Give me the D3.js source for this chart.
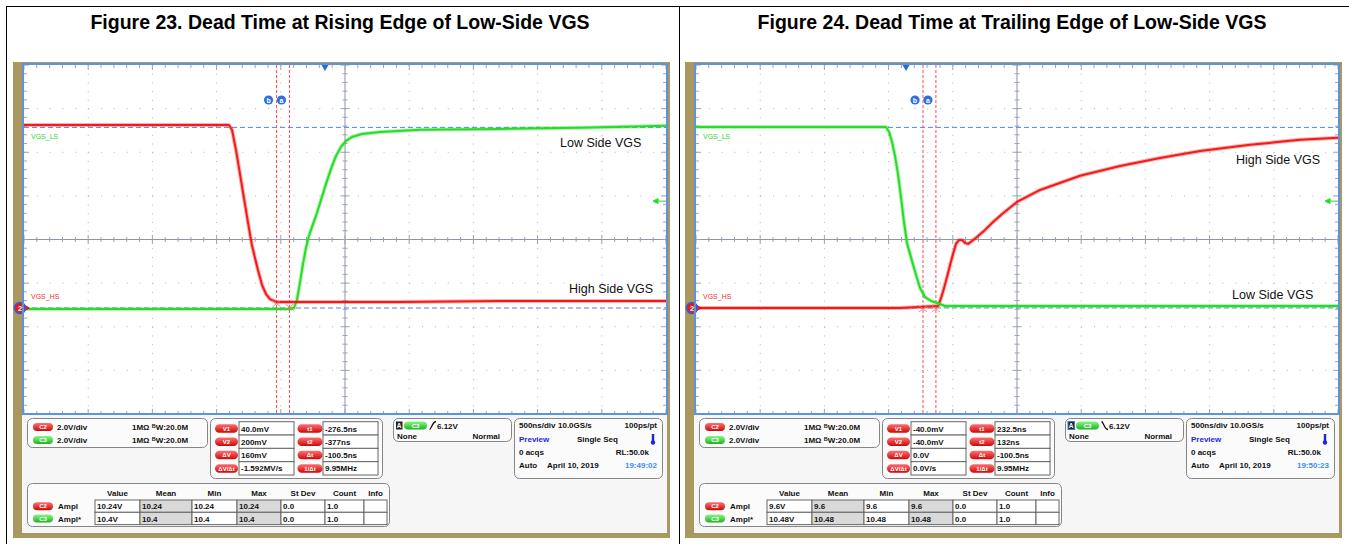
<!DOCTYPE html>
<html>
<head>
<meta charset="utf-8">
<script src="https://cdn.jsdelivr.net/npm/d3@7"></script>
<style>
  body { margin: 0; background: #fff; }
  svg { display: block; font-family: "Liberation Sans", Arial, sans-serif; }
</style>
</head>
<body>
<svg id="chart" width="1349" height="544"></svg>
<script>
// ---- data (time in ns from trigger, volts) ----
const TDIV = 500, VDIV = 2, V_BOTTOM = -4.86;

const fig23Title = "Figure 23. Dead Time at Rising Edge of Low-Side VGS";
const fig23HsT = [-2344, -1363, -748, -724, -693, -662, -631, -600, -584, -569, -545, -522, -490, -459, -428, -382, -320, -195, 584, 1363, 2656];
const fig23HsV = [8.39, 8.39, 8.39, 8.17, 7.25, 6.15, 5.05, 3.94, 3.39, 2.89, 2.29, 1.74, 1.05, 0.64, 0.41, 0.28, 0.28, 0.28, 0.28, 0.32, 0.32];
const fig23LsT = [-2344, -974, -273, -241, -218, -195, -171, -148, -125, -101, -70, -31, 8, 47, 86, 125, 164, 210, 288, 428, 740, 1363, 1986, 2656];
const fig23LsV = [-0.05, -0.05, -0.05, 0, 0.37, 1.15, 2.02, 2.75, 3.30, 3.72, 4.22, 4.95, 5.69, 6.38, 6.97, 7.39, 7.66, 7.84, 7.98, 8.07, 8.17, 8.21, 8.26, 8.35];
const fig23Cursors = [-377, -276.5];          // b, a
const fig23CursorV = [0.2, 0.04];
const fig23VText = ["40.0mV", "200mV", "160mV", "-1.592MV/s"];
const fig23TText = ["-276.5ns", "-377ns", "-100.5ns", "9.95MHz"];
const fig23Ampl = [["10.24V", "10.24", "10.24", "10.24", "0.0", "1.0", ""],
                   ["10.4V", "10.4", "10.4", "10.4", "0.0", "1.0", ""]];
const fig23Clock = "19:49:02";

const fig24Title = "Figure 24. Dead Time at Trailing Edge of Low-Side VGS";
const fig24LsT = [-1636, -826, -156, -132, -109, -86, -62, -39, -16, 8, 31, 55, 78, 109, 148, 195, 241, 304, 732, 1511, 3364];
const fig24LsV = [8.30, 8.30, 8.30, 8.07, 7.61, 6.97, 6.10, 5.05, 3.94, 2.95, 2.48, 1.97, 1.51, 0.92, 0.50, 0.32, 0.23, 0.09, 0.09, 0.09, 0.09];
const fig24HsT = [-1636, -47, 249, 273, 296, 319, 343, 366, 389, 413, 436, 460, 483, 514, 561, 615, 678, 748, 864, 1044, 1355, 1667, 1978, 2290, 2679, 3069, 3364];
const fig24HsV = [0, 0, 0.09, 0.46, 0.92, 1.42, 1.97, 2.48, 2.94, 3.12, 3.12, 2.98, 2.94, 3.07, 3.30, 3.58, 3.94, 4.31, 4.86, 5.41, 6.06, 6.51, 6.88, 7.20, 7.48, 7.71, 7.80];
const fig24Cursors = [132, 232.5];
const fig24CursorV = [-0.04, -0.04];
const fig24VText = ["-40.0mV", "-40.0mV", "0.0V", "0.0V/s"];
const fig24TText = ["232.5ns", "132ns", "-100.5ns", "9.95MHz"];
const fig24Ampl = [["9.6V", "9.6", "9.6", "9.6", "0.0", "1.0", ""],
                   ["10.48V", "10.48", "10.48", "10.48", "0.0", "1.0", ""]];
const fig24Clock = "19:50:23";

const cursorNames = ["V1", "V2", "ΔV", "ΔV/Δt"];
const timeNames = ["t1", "t2", "Δt", "1/Δt"];
const tableHead = ["Value", "Mean", "Min", "Max", "St Dev", "Count", "Info"];
const tableCols = [95, 140, 192, 237, 281, 325, 364, 387];

const TAN = "#aa9861", RED = "#f51a1a", GREEN = "#27dc27", BLUE = "#4a8be4";

const svg = d3.select("#chart");
const defs = svg.append("defs");
function grad(id, c1, c2) {
  const lg = defs.append("linearGradient").attr("id", id).attr("x1", 0).attr("y1", 0).attr("x2", 0).attr("y2", 1);
  lg.append("stop").attr("offset", "0%").attr("stop-color", c1);
  lg.append("stop").attr("offset", "100%").attr("stop-color", c2);
}
grad("gRed", "#ff7070", "#cc0808");
grad("gGreen", "#8af58a", "#1cb41c");

// page borders
svg.append("line").attr("x1", 6.5).attr("x2", 6.5).attr("y1", 6).attr("y2", 544).attr("stroke", "#000");
svg.append("line").attr("x1", 679.5).attr("x2", 679.5).attr("y1", 6).attr("y2", 544).attr("stroke", "#000");
svg.append("line").attr("x1", 6).attr("x2", 1349).attr("y1", 6.5).attr("y2", 6.5).attr("stroke", "#000");

function pill(g, x, y, w, h, fill, label) {
  g.append("rect").attr("x", x).attr("y", y).attr("width", w).attr("height", h)
    .attr("rx", h / 2).attr("fill", fill);
  g.append("text").attr("x", x + w / 2).attr("y", y + h / 2 + 2.2).attr("text-anchor", "middle")
    .attr("font-size", 6).attr("font-weight", "bold").attr("fill", "#fff").text(label);
}

function txt(g, x, y, s, opts = {}) {
  return g.append("text").attr("x", x).attr("y", y)
    .attr("font-size", opts.size || 8).attr("font-weight", opts.weight || "bold")
    .attr("fill", opts.fill || "#111").attr("text-anchor", opts.anchor || "start").text(s);
}

function drawPanel(ox, p) {
  const g = svg.append("g").attr("transform", `translate(${ox},0)`);

  g.append("text").attr("x", 340).attr("y", 29).attr("text-anchor", "middle")
    .attr("font-size", 19.5).attr("font-weight", "bold").attr("fill", "#000").text(p.title);

  // scope frame
  g.append("rect").attr("x", 13).attr("y", 62).attr("width", 657).attr("height", 476).attr("fill", TAN);
  g.append("rect").attr("x", 22).attr("y", 415).attr("width", 645).attr("height", 118).attr("fill", "#f6f6f6");
  g.append("rect").attr("x", 22).attr("y", 63).attr("width", 646).attr("height", 352).attr("fill", "#fff");

  const x = d3.scaleLinear().domain([p.tStart, p.tStart + 10 * TDIV]).range([24, 666]);
  const y = d3.scaleLinear().domain([V_BOTTOM, V_BOTTOM + 8 * VDIV]).range([414, 65]);
  const tMid = p.tStart + 5 * TDIV, vMid = V_BOTTOM + 4 * VDIV;

  // dotted grid
  const majorT = d3.range(1, 10).filter(k => k !== 5).map(k => p.tStart + k * TDIV);
  const majorV = d3.range(1, 8).filter(k => k !== 4).map(k => V_BOTTOM + k * VDIV);
  g.selectAll(".gx").data(majorT).join("line")
    .attr("x1", d => x(d)).attr("x2", d => x(d)).attr("y1", 65).attr("y2", 414)
    .attr("stroke", "#aeb2ba").attr("stroke-width", 1).attr("stroke-dasharray", "1 7.725");
  g.selectAll(".gy").data(majorV).join("line")
    .attr("y1", d => y(d)).attr("y2", d => y(d)).attr("x1", 24).attr("x2", 666)
    .attr("stroke", "#aeb2ba").attr("stroke-width", 1).attr("stroke-dasharray", "1 11.84");

  // center cross
  const axc = "#8e95a6";
  g.append("line").attr("x1", x(tMid)).attr("x2", x(tMid)).attr("y1", 65).attr("y2", 414).attr("stroke", axc);
  g.append("line").attr("x1", 24).attr("x2", 666).attr("y1", y(vMid)).attr("y2", y(vMid)).attr("stroke", axc);

  const tMinor = d3.range(0, 51).map(i => p.tStart + i * TDIV / 5);
  const vMinor = d3.range(0, 41).map(i => V_BOTTOM + i * VDIV / 5);
  const tk = g.append("g").attr("stroke", "#9aa2b4").attr("stroke-width", 1);
  tMinor.forEach((t, i) => {
    const L = i % 5 === 0 ? 5 : 3;
    tk.append("line").attr("x1", x(t)).attr("x2", x(t)).attr("y1", 65).attr("y2", 65 + L);
    tk.append("line").attr("x1", x(t)).attr("x2", x(t)).attr("y1", 414).attr("y2", 414 - L);
    tk.append("line").attr("x1", x(t)).attr("x2", x(t)).attr("y1", y(vMid) - L + 0.5).attr("y2", y(vMid) + L - 0.5);
  });
  vMinor.forEach((v, i) => {
    const L = i % 5 === 0 ? 5 : 3;
    tk.append("line").attr("y1", y(v)).attr("y2", y(v)).attr("x1", 24).attr("x2", 24 + L);
    tk.append("line").attr("y1", y(v)).attr("y2", y(v)).attr("x1", 666).attr("x2", 666 - L);
    tk.append("line").attr("y1", y(v)).attr("y2", y(v)).attr("x1", x(tMid) - L + 0.5).attr("x2", x(tMid) + L - 0.5);
  });

  // horizontal cursor levels
  g.selectAll(".lvl").data(p.levels).join("line")
    .attr("x1", 24).attr("x2", 666).attr("y1", d => y(d)).attr("y2", d => y(d))
    .attr("stroke", BLUE).attr("stroke-width", 1).attr("stroke-dasharray", "5 3");

  // vertical time cursors
  g.selectAll(".cur").data(p.cursors).join("line")
    .attr("x1", d => x(d)).attr("x2", d => x(d)).attr("y1", 65).attr("y2", 414)
    .attr("stroke", "#ff4a4a").attr("stroke-width", 1).attr("stroke-dasharray", "3 2");
  ["b", "a"].forEach((lab, i) => {
    const cx = x(p.cursors[i]) - 8;
    g.append("circle").attr("cx", cx).attr("cy", 100).attr("r", 4.6).attr("fill", "#2f6fe0");
    g.append("text").attr("x", cx).attr("y", 102.6).attr("text-anchor", "middle")
      .attr("font-size", 7).attr("font-weight", "bold").attr("fill", "#fff").text(lab);
  });

  // trigger marker
  const tx = x(0);
  g.append("path").attr("d", `M${tx - 3.5},65 L${tx + 3.5},65 L${tx},71 Z`).attr("fill", "#2a6ad8");

  // traces
  const line = d3.line().x(d => x(d[0])).y(d => y(d[1]));
  p.traces.forEach(tr => {
    const pts = d3.zip(tr.t, tr.v);
    g.append("path").attr("d", line(pts)).attr("fill", "none").attr("stroke", tr.color)
      .attr("stroke-width", 4).attr("stroke-opacity", 0.35).attr("stroke-linejoin", "round");
    g.append("path").attr("d", line(pts)).attr("fill", "none").attr("stroke", tr.color)
      .attr("stroke-width", 2).attr("stroke-linejoin", "round");
  });

  // cursor crossing marks
  p.cursors.forEach((c, i) => {
    const cx = x(c), cy = y(p.cursorV[i]);
    g.append("path").attr("d", `M${cx - 4},${cy - 3} L${cx + 4},${cy + 3} M${cx - 4},${cy + 3} L${cx + 4},${cy - 3}`)
      .attr("stroke", "#ff6a6a").attr("stroke-width", 0.8);
  });

  // channel labels + ground marker + trigger level arrow
  txt(g, 31, 139, "VGS_LS", { size: 7, weight: "normal", fill: "#2fd62f" });
  txt(g, 31, 299, "VGS_HS", { size: 7, weight: "normal", fill: "#f03030" });
  const gy0 = y(0);
  g.append("path").attr("d", `M25,${gy0 - 3} L30,${gy0} L25,${gy0 + 3} Z`).attr("fill", "#f01010");
  g.append("circle").attr("cx", 20).attr("cy", gy0).attr("r", 5.5).attr("fill", "#e81818")
    .attr("stroke", "#2f5fd8").attr("stroke-width", 1.6);
  g.append("text").attr("x", 20).attr("y", gy0 + 2.8).attr("text-anchor", "middle")
    .attr("font-size", 7.5).attr("font-weight", "bold").attr("fill", "#fff").text("2");
  const ay = y(p.trigArrowV);
  g.append("path").attr("d", `M653,${ay} L658,${ay - 2.5} L658,${ay + 2.5} Z M658,${ay} L666,${ay}`)
    .attr("fill", GREEN).attr("stroke", GREEN).attr("stroke-width", 1);

  p.labels.forEach(l => {
    g.append("text").attr("x", l.x).attr("y", l.y).attr("font-size", 12.5).attr("fill", "#111").text(l.text);
  });

  // ---- info area ----
  const box = (bx, by, w, h) => g.append("rect").attr("x", bx).attr("y", by).attr("width", w).attr("height", h)
    .attr("rx", 5).attr("fill", "#fbfbfb").attr("stroke", "#858585").attr("stroke-width", 1);

  // channel settings
  box(27.5, 418.5, 180, 29);
  [["url(#gRed)", "C2"], ["url(#gGreen)", "C3"]].forEach((c, i) => {
    const ry = 423 + i * 13;
    pill(g, 33, ry, 20, 8, c[0], c[1]);
    txt(g, 57, ry + 7, "2.0V/div");
    const t = txt(g, 132, ry + 7, "1MΩ ");
    t.append("tspan").attr("font-size", 5.5).attr("dy", -2.5).text("B");
    t.append("tspan").attr("dy", 2.5).text("W:20.0M");
  });

  // cursor readouts
  box(210.5, 418.5, 172, 60);
  for (let i = 0; i < 4; i++) {
    const ry = 421.7 + i * 13.33;
    pill(g, 215, ry + 2.5, 23, 8.5, "url(#gRed)", cursorNames[i]);
    g.append("rect").attr("x", 239).attr("y", ry).attr("width", 55).attr("height", 13.33)
      .attr("fill", "#fff").attr("stroke", "#666");
    txt(g, 241, ry + 9.8, p.vText[i]);
    pill(g, 297.5, ry + 2.5, 25, 8.5, "url(#gRed)", timeNames[i]);
    g.append("rect").attr("x", 323).attr("y", ry).attr("width", 55).attr("height", 13.33)
      .attr("fill", "#fff").attr("stroke", "#666");
    txt(g, 325, ry + 9.8, p.tText[i]);
  }

  // trigger box
  box(393.5, 418.5, 118, 23);
  g.append("rect").attr("x", 396).attr("y", 421.5).attr("width", 6.5).attr("height", 8)
    .attr("fill", "#222").attr("stroke", p.trigSlope > 0 ? "none" : "#3a78e0").attr("stroke-width", 1);
  g.append("text").attr("x", 399.2).attr("y", 428.3).attr("text-anchor", "middle").attr("font-size", 6.5)
    .attr("font-weight", "bold").attr("fill", "#fff").text("A");
  pill(g, 404, 421.5, 23, 8, "url(#gGreen)", "C3");
  const e0 = 429.5, e1 = 436;
  const edge = p.trigSlope > 0
    ? `M${e0},429.5 C${e0 + 2},429.5 ${e0 + 2.5},422 ${e1},421.5`
    : `M${e0},421.5 C${e0 + 2},421.5 ${e0 + 2.5},429 ${e1},429.5`;
  g.append("path").attr("d", edge).attr("fill", "none").attr("stroke", "#111").attr("stroke-width", 1.3);
  txt(g, 437, 428.5, "6.12V");
  txt(g, 397, 438.5, "None");
  txt(g, 500, 438.5, "Normal", { anchor: "end" });

  // timebase box
  box(514.5, 418.5, 148, 60);
  txt(g, 519, 428, "500ns/div");
  txt(g, 558, 428, "10.0GS/s");
  txt(g, 657, 428, "100ps/pt", { anchor: "end" });
  txt(g, 519, 442, "Preview", { fill: "#2424e8" });
  txt(g, 577, 442, "Single Seq");
  g.append("rect").attr("x", 651.8).attr("y", 434).attr("width", 2.4).attr("height", 8).attr("fill", "#1a2ad0");
  g.append("circle").attr("cx", 653).attr("cy", 442.5).attr("r", 2.2).attr("fill", "#1a2ad0");
  txt(g, 519, 455, "0 acqs");
  txt(g, 649, 455, "RL:50.0k", { anchor: "end" });
  txt(g, 519, 468, "Auto");
  txt(g, 547, 468, "April 10, 2019");
  txt(g, 657, 468, p.clock, { anchor: "end", fill: "#3d8fe8" });

  // measurement table
  box(27.5, 483.5, 362, 43);
  tableHead.forEach((h, i) => txt(g, (tableCols[i] + tableCols[i + 1]) / 2, 496, h, { anchor: "middle" }));
  p.ampl.forEach((row, r) => {
    const ry = 500 + r * 12.3;
    pill(g, 33, ry + 2.2, 20, 8, r === 0 ? "url(#gRed)" : "url(#gGreen)", r === 0 ? "C2" : "C3");
    txt(g, 58, ry + 9.3, r === 0 ? "Ampl" : "Ampl*");
    row.forEach((v, c) => {
      g.append("rect").attr("x", tableCols[c]).attr("y", ry).attr("width", tableCols[c + 1] - tableCols[c])
        .attr("height", 12.3).attr("fill", (c === 1 || c === 3) ? "#d9d9d9" : "#fff").attr("stroke", "#666");
      txt(g, tableCols[c] + 2, ry + 9.2, v);
    });
  });

  // blue plot border on top
  g.append("rect").attr("x", 23).attr("y", 64).attr("width", 644).attr("height", 350)
    .attr("fill", "none").attr("stroke", "#5d92dc").attr("stroke-width", 2);
}

drawPanel(0, {
  title: fig23Title, tStart: -2344, levels: [8.28, 0],
  cursors: fig23Cursors, cursorV: fig23CursorV, trigArrowV: 4.9, trigSlope: 1,
  traces: [{ t: fig23LsT, v: fig23LsV, color: GREEN }, { t: fig23HsT, v: fig23HsV, color: RED }],
  labels: [{ text: "Low Side VGS", x: 560, y: 147 }, { text: "High Side VGS", x: 569, y: 293 }],
  vText: fig23VText, tText: fig23TText, ampl: fig23Ampl, clock: fig23Clock
});

drawPanel(672, {
  title: fig24Title, tStart: -1636, levels: [8.28, 0],
  cursors: fig24Cursors, cursorV: fig24CursorV, trigArrowV: 4.9, trigSlope: -1,
  traces: [{ t: fig24HsT, v: fig24HsV, color: RED }, { t: fig24LsT, v: fig24LsV, color: GREEN }],
  labels: [{ text: "High Side VGS", x: 564, y: 164 }, { text: "Low Side VGS", x: 560, y: 299 }],
  vText: fig24VText, tText: fig24TText, ampl: fig24Ampl, clock: fig24Clock
});
</script>
</body>
</html>
